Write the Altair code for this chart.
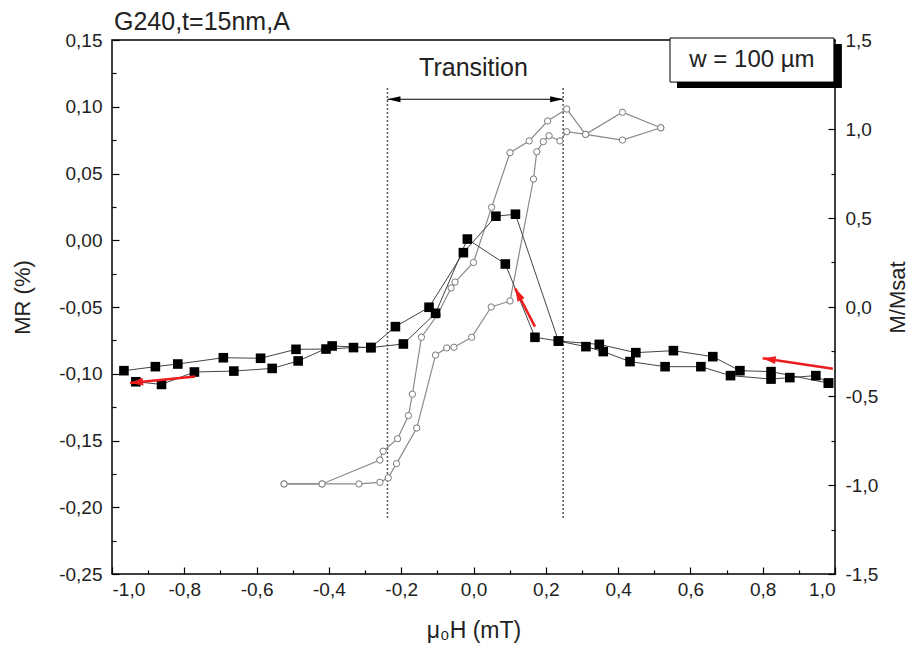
import math
import altair as alt
import pandas as pd

# ---------------- texts ----------------
TITLE = "G240,t=15nm,A"
X_TITLE = "μ₀H (mT)"
LEFT_TITLE = "MR (%)"
RIGHT_TITLE = "M/Msat"
BOX_TEXT = "w = 100 µm"
TRANSITION = "Transition"

# ---------------- axes ----------------
x_domain = [-1.0, 1.0]
mr_domain = [-0.25, 0.15]
m_domain = [-1.5, 1.5]
x_major = [-1.0, -0.8, -0.6, -0.4, -0.2, 0.0, 0.2, 0.4, 0.6, 0.8, 1.0]
x_minor = [-0.9, -0.7, -0.5, -0.3, -0.1, 0.1, 0.3, 0.5, 0.7, 0.9]
mr_major = [-0.25, -0.20, -0.15, -0.10, -0.05, 0.0, 0.05, 0.10, 0.15]
mr_minor = [-0.225, -0.175, -0.125, -0.075, -0.025, 0.025, 0.075, 0.125]
m_major = [-1.5, -1.0, -0.5, 0.0, 0.5, 1.0, 1.5]
m_minor = [-1.25, -0.75, -0.25, 0.25, 0.75, 1.25]

# ---------------- MR (black squares) ----------------
mr_up_h = [-0.967, -0.880, -0.818, -0.692, -0.589, -0.491, -0.408, -0.332, -0.284,
           -0.216, -0.123, -0.028, 0.062, 0.116, 0.235, 0.311, 0.359, 0.433, 0.530,
           0.629, 0.711, 0.823, 0.875, 0.947, 0.982]
mr_up_v = [-0.0977, -0.0947, -0.0927, -0.0880, -0.0884, -0.0817, -0.0815, -0.0804, -0.0804,
           -0.0647, -0.0502, -0.0093, 0.0180, 0.0195, -0.0755, -0.0797, -0.0834, -0.0909, -0.0947,
           -0.0947, -0.1014, -0.1040, -0.1029, -0.1014, -0.1070]
mr_down_h = [0.982, 0.823, 0.737, 0.662, 0.553, 0.449, 0.348, 0.235, 0.170, 0.088,
             -0.017, -0.105, -0.194, -0.284, -0.391, -0.485, -0.557, -0.663, -0.772,
             -0.863, -0.934]
mr_down_v = [-0.1070, -0.0984, -0.0977, -0.0872, -0.0827, -0.0842, -0.0780, -0.0755, -0.0727, -0.0178,
             0.0009, -0.0547, -0.0777, -0.0804, -0.0792, -0.0904, -0.0960, -0.0980, -0.0987,
             -0.1080, -0.1060]

# ---------------- M/Msat (open circles) ----------------
m_up_h = [-0.524, -0.419, -0.317, -0.259, -0.236, -0.213, -0.157, -0.105, -0.074, -0.054,
          -0.005, 0.049, 0.101, 0.166, 0.175, 0.193, 0.209, 0.239, 0.258, 0.310, 0.412, 0.518]
m_up_v = [-0.994, -0.994, -0.994, -0.985, -0.960, -0.880, -0.680, -0.270, -0.230, -0.226,
          -0.170, 0.000, 0.034, 0.719, 0.872, 0.929, 0.962, 0.933, 0.985, 0.970, 1.094, 1.007]
m_down_h = [0.518, 0.412, 0.310, 0.258, 0.205, 0.154, 0.101, 0.050, 0.000, -0.051, -0.062,
            -0.100, -0.144, -0.169, -0.180, -0.210, -0.250, -0.259, -0.419, -0.524]
m_down_v = [1.007, 0.938, 0.970, 1.112, 1.045, 0.933, 0.867, 0.560, 0.250, 0.140, 0.107,
            -0.045, -0.170, -0.490, -0.610, -0.740, -0.810, -0.860, -0.994, -0.994]

# ---------------- annotations (data units, MR axis) ----------------
trans_h = [-0.238, 0.248]
trans_top = 0.114
trans_bottom = -0.2095
trans_arrow_v = 0.1056
trans_label = (0.0, 0.1190)
red_tail_h = [0.994, -0.770, 0.170]
red_tail_v = [-0.0963, -0.1021, -0.0647]
red_head_h = [0.800, -0.950, 0.115]
red_head_v = [-0.0884, -0.1069, -0.0360]
box_h = [0.5436, 0.997]
box_v = [0.1515, 0.1185]
shadow_h = [0.563, 1.019]
shadow_v = [0.1470, 0.1140]

# ---------------- layout ----------------
W, H = 723, 534
FONT = "Liberation Sans"
TXT = "#222222"

xs = alt.Scale(domain=x_domain, nice=False, zero=False)
mrs = alt.Scale(domain=mr_domain, nice=False, zero=False)
ms = alt.Scale(domain=m_domain, nice=False, zero=False)


def lab(fmt):
    return f"(datum.value < 0 ? '-' : '') + replace(format(abs(datum.value), '{fmt}'), '.', ',')"


x_axis_major = alt.Axis(orient="bottom", values=x_major, offset=-7, tickSize=7, tickWidth=1.2,
                        tickColor="black", domain=False, grid=False, labelExpr=lab(".1f"),
                        labelFont=FONT, labelFontSize=19, labelColor=TXT, labelPadding=6,
                        title=X_TITLE, titleFont=FONT, titleFontSize=23, titleFontWeight="normal",
                        titleColor=TXT, titleX=W / 2, titleY=63, titleBaseline="middle")
x_axis_minor = alt.Axis(orient="bottom", values=x_minor, offset=-4, tickSize=4, tickWidth=1.2,
                        tickColor="black", domain=False, grid=False, labels=False, title="")
left_axis_major = alt.Axis(orient="left", values=mr_major, offset=-7, tickSize=7, tickWidth=1.2,
                           tickColor="black", domain=False, grid=False, labelExpr=lab(".2f"),
                           labelFont=FONT, labelFontSize=19, labelColor=TXT, labelPadding=10,
                           title=LEFT_TITLE, titleFont=FONT, titleFontSize=22, titleFontWeight="normal",
                           titleColor=TXT, titleX=-97, titleY=H / 2 - 10, titleAngle=270,
                           titleBaseline="middle")
left_axis_minor = alt.Axis(orient="left", values=mr_minor, offset=-4, tickSize=4, tickWidth=1.2,
                           tickColor="black", domain=False, grid=False, labels=False, title="")
right_axis_major = alt.Axis(orient="right", values=m_major, offset=-7, tickSize=7, tickWidth=1.2,
                            tickColor="black", domain=False, grid=False, labelExpr=lab(".1f"),
                            labelFont=FONT, labelFontSize=19, labelColor=TXT, labelPadding=10,
                            title=RIGHT_TITLE, titleFont=FONT, titleFontSize=22, titleFontWeight="normal",
                            titleColor=TXT, titleX=69, titleY=H / 2 - 10, titleAngle=270,
                            titleBaseline="middle")
right_axis_minor = alt.Axis(orient="right", values=m_minor, offset=-4, tickSize=4, tickWidth=1.2,
                            tickColor="black", domain=False, grid=False, labels=False, title="")

# ---------------- tables ----------------
mr_df = pd.DataFrame({
    "h": mr_up_h + mr_down_h,
    "v": mr_up_v + mr_down_v,
    "branch": ["up"] * len(mr_up_h) + ["down"] * len(mr_down_h),
    "idx": list(range(len(mr_up_h))) + list(range(len(mr_down_h))),
})
m_df = pd.DataFrame({
    "h": m_up_h + m_down_h,
    "m": m_up_v + m_down_v,
    "branch": ["up"] * len(m_up_h) + ["down"] * len(m_down_h),
    "idx": list(range(len(m_up_h))) + list(range(len(m_down_h))),
})

px_per_h = W / (x_domain[1] - x_domain[0])
px_per_v = H / (mr_domain[1] - mr_domain[0])
angles = []
for th, tv, hh, hv in zip(red_tail_h, red_tail_v, red_head_h, red_head_v):
    dx = (hh - th) * px_per_h
    dy = -(hv - tv) * px_per_v
    angles.append(math.degrees(math.atan2(dx, -dy)) % 360)
red_df = pd.DataFrame({"h": red_tail_h, "v": red_tail_v, "h2": red_head_h, "v2": red_head_v,
                       "angle": angles})

trans_df = pd.DataFrame({"h": trans_h, "v": [trans_top] * 2, "v2": [trans_bottom] * 2})
tarrow_df = pd.DataFrame({"h": [trans_h[0]], "h2": [trans_h[1]], "v": [trans_arrow_v]})
thead_df = pd.DataFrame({"h": trans_h, "v": [trans_arrow_v] * 2, "side": ["l", "r"]})
tlabel_df = pd.DataFrame({"h": [trans_label[0]], "v": [trans_label[1]], "t": [TRANSITION]})
box_df = pd.DataFrame({"h": [box_h[0]], "h2": [box_h[1]], "v": [box_v[0]], "v2": [box_v[1]]})
shadow_df = pd.DataFrame({"h": [shadow_h[0]], "h2": [shadow_h[1]], "v": [shadow_v[0]], "v2": [shadow_v[1]]})
boxtext_df = pd.DataFrame({"h": [(box_h[0] + box_h[1]) / 2], "v": [(box_v[0] + box_v[1]) / 2], "t": [BOX_TEXT]})


def X(axis=None, field="h"):
    return alt.X(f"{field}:Q", scale=xs, axis=axis)


def YMR(axis=None, field="v"):
    return alt.Y(f"{field}:Q", scale=mrs, axis=axis)


def YM(axis=None):
    return alt.Y("m:Q", scale=ms, axis=axis)


mr_line = alt.Chart(mr_df).mark_line(color="#444444", strokeWidth=1).encode(
    x=X(x_axis_major), y=YMR(left_axis_major), detail="branch:N", order="idx:Q")
mr_pts = alt.Chart(mr_df).mark_point(shape="square", filled=True, color="black", size=92, opacity=1).encode(
    x=X(), y=YMR())
m_line = alt.Chart(m_df).mark_line(color="#8a8a8a", strokeWidth=1.2).encode(
    x=X(), y=YM(right_axis_major), detail="branch:N", order="idx:Q")
m_pts = alt.Chart(m_df).mark_point(shape="circle", filled=True, fill="white", stroke="#7a7a7a",
                                   strokeWidth=1, size=40, opacity=1).encode(x=X(), y=YM())
minor_left = alt.Chart(mr_df).mark_point(opacity=0).encode(x=X(x_axis_minor), y=YMR(left_axis_minor))
minor_right = alt.Chart(m_df).mark_point(opacity=0).encode(x=X(), y=YM(right_axis_minor))

trans_rules = alt.Chart(trans_df).mark_rule(color="#555555", strokeWidth=1.5, strokeDash=[2, 2]).encode(
    x=X(), y=YMR(), y2="v2:Q")
trans_arrow = alt.Chart(tarrow_df).mark_rule(color="black", strokeWidth=1.2).encode(
    x=X(), x2="h2:Q", y=YMR())
thead_l = alt.Chart(thead_df[thead_df.side == "l"]).mark_point(
    shape="M0,0L2.6,-0.6L2.6,0.6Z", filled=True, color="black", size=100, opacity=1).encode(x=X(), y=YMR())
thead_r = alt.Chart(thead_df[thead_df.side == "r"]).mark_point(
    shape="M0,0L-2.6,-0.6L-2.6,0.6Z", filled=True, color="black", size=100, opacity=1).encode(x=X(), y=YMR())
tlabel = alt.Chart(tlabel_df).mark_text(font=FONT, fontSize=25, color=TXT, baseline="bottom").encode(
    x=X(), y=YMR(), text="t:N")

red_lines = alt.Chart(red_df).mark_rule(color="#ee1c1c", strokeWidth=2.5).encode(
    x=X(), x2="h2:Q", y=YMR(), y2="v2:Q")
red_heads = alt.Chart(red_df).mark_point(shape="M0,0L0.6,2L-0.6,2Z", filled=True, color="#ee1c1c",
                                         size=169, opacity=1).encode(
    x=X(field="h2"), y=YMR(field="v2"), angle=alt.Angle("angle:Q", scale=None))

shadow = alt.Chart(shadow_df).mark_rect(color="black").encode(x=X(), x2="h2:Q", y=YMR(), y2="v2:Q")
box = alt.Chart(box_df).mark_rect(fill="white", stroke="black", strokeWidth=1).encode(
    x=X(), x2="h2:Q", y=YMR(), y2="v2:Q")
boxtext = alt.Chart(boxtext_df).mark_text(font=FONT, fontSize=24, color=TXT).encode(
    x=X(), y=YMR(), text="t:N")

chart = alt.layer(
    minor_left, minor_right, trans_rules, trans_arrow, thead_l, thead_r, tlabel,
    m_line, m_pts, mr_line, mr_pts, red_lines, red_heads, shadow, box, boxtext
).resolve_scale(y="independent").resolve_axis(x="independent").properties(
    width=W, height=H,
    autosize=alt.AutoSizeParams(type="none"),
    padding={"left": 104, "top": 32, "right": 78, "bottom": 74},
    title=alt.TitleParams(TITLE, anchor="start", font=FONT, fontSize=25, fontWeight="normal",
                          color=TXT, offset=4, dy=8, dx=103),
).configure_view(stroke="black", strokeWidth=1.5)

chart.save("out.html", embed_options={"renderer": "svg", "actions": False})
